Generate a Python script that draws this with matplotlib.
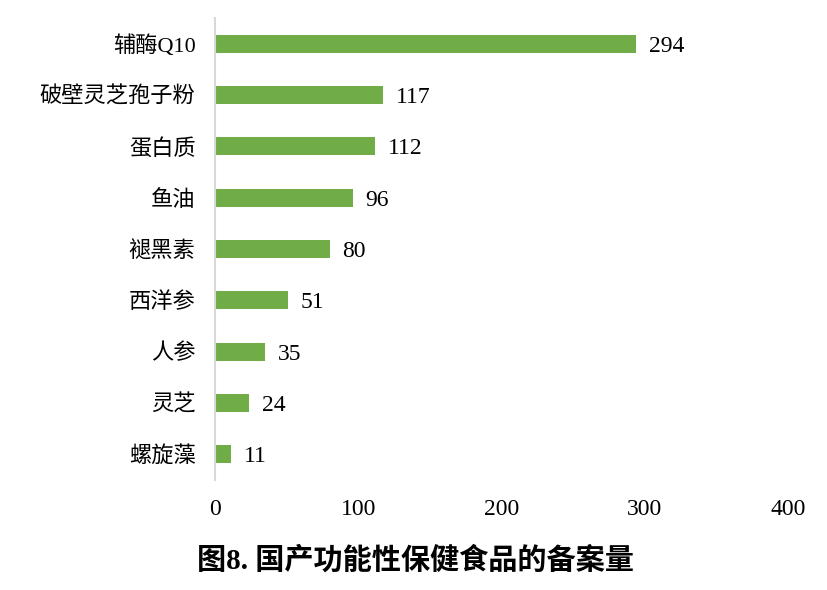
import matplotlib
matplotlib.use("Agg")
import matplotlib.pyplot as plt

categories = ["辅酶Q10", "破壁灵芝孢子粉", "蛋白质", "鱼油", "褪黑素", "西洋参", "人参", "灵芝", "螺旋藻"]
values = [294, 117, 112, 96, 80, 51, 35, 24, 11]
xticks = [0, 100, 200, 300, 400]
title = "图8. 国产功能性保健食品的备案量"

fam = ["Liberation Serif", "Noto Sans CJK SC", "DejaVu Sans"]
plt.rcParams["font.family"] = fam

fig = plt.figure(figsize=(8.27, 5.90), dpi=100)
ax = fig.add_axes([0.26, 0.1864, 0.6928, 0.7831])

ypos = list(range(len(categories)))
ax.barh(ypos, values, height=0.35, color="#70ad47")
ax.set_ylim(len(categories) - 0.5, -0.5)
ax.set_xlim(0, 400)
ax.set_yticks(ypos)
ax.set_yticklabels(categories, fontsize=16)
ax.set_xticks(xticks)
ax.set_xticklabels([str(t) for t in xticks], fontsize=17, family="Liberation Serif")
ax.tick_params(axis="both", length=0)
ax.tick_params(axis="y", pad=14)
ax.tick_params(axis="x", pad=14)
for s in ["top", "right", "bottom"]:
    ax.spines[s].set_visible(False)
ax.spines["left"].set_color("#d9d9d9")
ax.spines["left"].set_linewidth(1.5)

for y, v in zip(ypos, values):
    ax.text(v + 9, y, str(v), va="center_baseline", ha="left", fontsize=17,
            family="Liberation Serif")

fig.text(0.502, 0.05, title, ha="center", va="center", fontsize=21, fontweight="bold")

fig.savefig("out.png", dpi=100)
